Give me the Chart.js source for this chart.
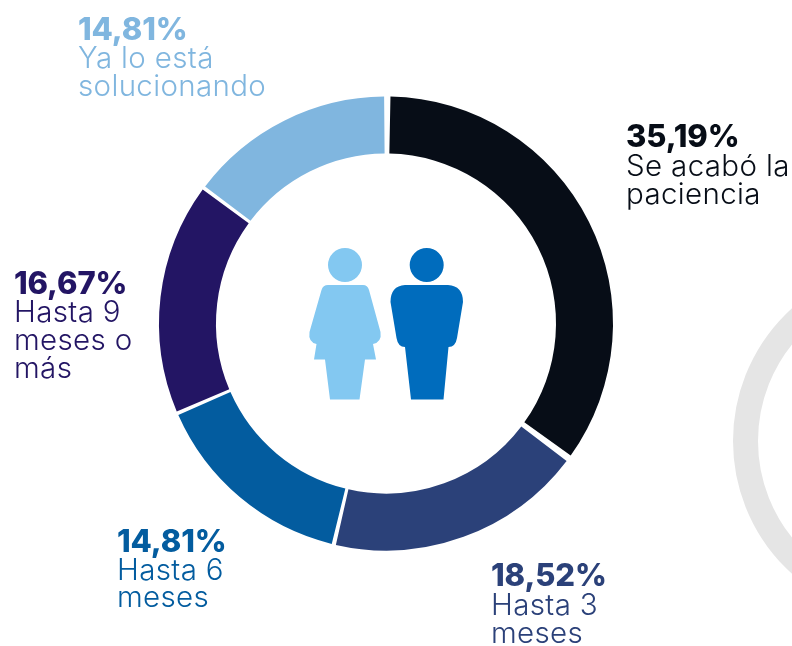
<!DOCTYPE html>
<html lang="es"><head><meta charset="utf-8">
<style>html,body{margin:0;padding:0;background:#fff;overflow:hidden}canvas{display:block}</style>
<script src="https://cdn.jsdelivr.net/npm/chart.js@4"></script></head>
<body><canvas id="c" width="792" height="646"></canvas>
<script>
const categories = [["Se acabó la","paciencia"],["Hasta 3","meses"],["Hasta 6","meses"],["Hasta 9","meses o","más"],["Ya lo está","solucionando"]];
const values = [35.19,18.52,14.81,16.67,14.81];
const percentLabels = ["35,19%","18,52%","14,81%","16,67%","14,81%"];
const colors = ["#070d17","#2b4179","#035c9f","#231564","#80b6df"];
const labelX = [626,491,117,14,78];
const labelBaselines = [[147,176,204],[586,615,643],[552,580,607],[294,322,350,378],[40,68,96]];
const FONT = 'Inter, sans-serif';

function womanPath(){
  const p=new Path2D();
  p.arc(345,265,17,0,Math.PI*2);p.closePath();
  p.moveTo(328,285);p.lineTo(363,285);
  p.quadraticCurveTo(367.5,285,369,290);
  p.lineTo(380.5,332);
  p.quadraticCurveTo(382,342,373,344);
  p.lineTo(376,359.5);p.lineTo(365,359.5);p.lineTo(359.5,399.5);p.lineTo(330,399.5);p.lineTo(325,359.5);p.lineTo(314,359.5);p.lineTo(316.5,344);
  p.quadraticCurveTo(308,342,309.5,332);
  p.lineTo(321.5,290);
  p.quadraticCurveTo(323,285,328,285);p.closePath();
  return p;
}
function manPath(){
  const p=new Path2D();
  p.arc(426.7,265,17,0,Math.PI*2);p.closePath();
  p.moveTo(405,285);p.lineTo(448,285);
  p.quadraticCurveTo(463,286,463,302);
  p.lineTo(457,338);
  p.quadraticCurveTo(455.5,347,448.5,347);
  p.lineTo(443.5,399.5);p.lineTo(411,399.5);p.lineTo(405,347);
  p.quadraticCurveTo(398,347,396.5,338);
  p.lineTo(390.5,302);
  p.quadraticCurveTo(390.5,286,405,285);p.closePath();
  return p;
}
const decorations={id:'decorations',
  beforeDraw(chart){
    const x=chart.ctx;x.save();
    x.strokeStyle='#e5e5e5';x.lineWidth=25;
    x.beginPath();x.arc(912,441,166.5,0,Math.PI*2);x.stroke();
    x.restore();
  },
  afterDraw(chart){
    const x=chart.ctx;x.save();
    x.fillStyle='#83c8f1';x.fill(womanPath());
    x.fillStyle='#006cbd';x.fill(manPath());
    x.textAlign='left';x.textBaseline='alphabetic';
    categories.forEach((lines,i)=>{
      x.fillStyle=colors[i];
      x.font='800 31px '+FONT;x.letterSpacing='-0.1px';
      x.fillText(percentLabels[i],labelX[i],labelBaselines[i][0]);
      x.font='300 29.5px '+FONT;x.letterSpacing='0.35px';
      lines.forEach((t,j)=>x.fillText(t,labelX[i],labelBaselines[i][j+1]));
    });
    x.restore();
  }};
new Chart(document.getElementById('c'),{
  type:'doughnut',
  data:{labels:categories.map(l=>l.join(' ')),datasets:[{data:values,backgroundColor:colors,borderWidth:0,spacing:7}]},
  options:{responsive:false,animation:false,cutout:'74.5%',rotation:0,
    layout:{padding:{left:159,right:179,top:96,bottom:95}},
    plugins:{legend:{display:false},tooltip:{enabled:false}}},
  plugins:[decorations]
});
</script></body></html>
